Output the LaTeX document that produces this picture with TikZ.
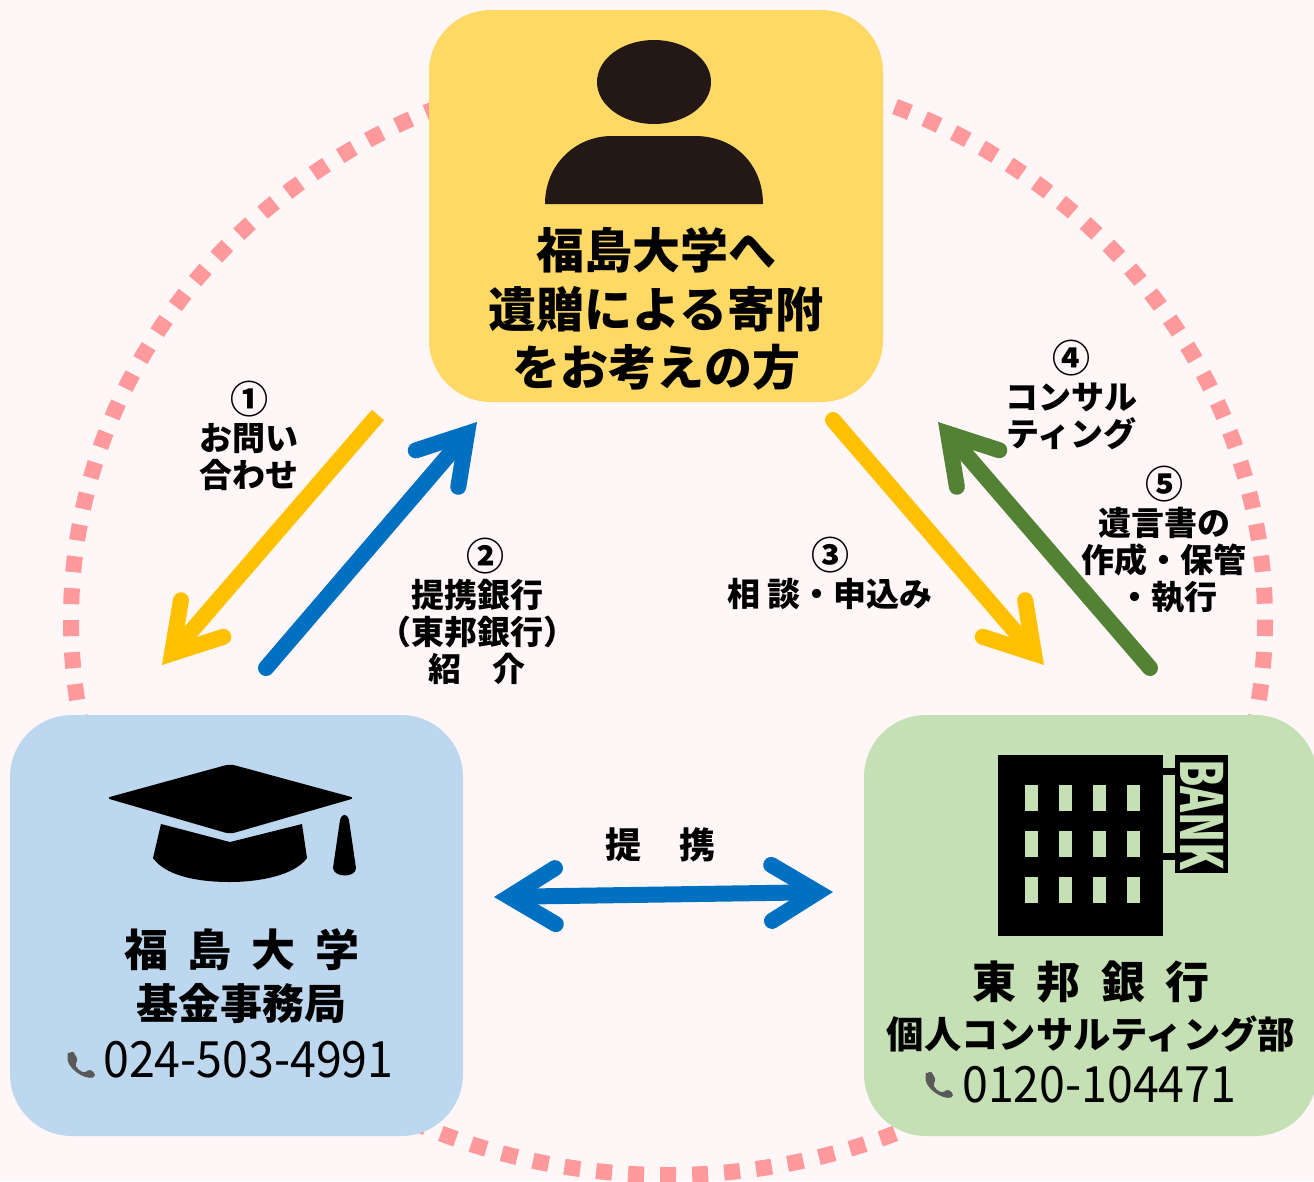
\documentclass[tikz,border=0pt]{standalone}
\usepackage{fontspec}
\usepackage{graphicx}
\usetikzlibrary{arrows.meta}
\setmainfont{Noto Sans CJK JP}
\newfontfamily\telfont[FakeStretch=0.93]{Noto Sans CJK JP}
\newcommand{\stepnum}[1]{{\fontsize{38}{37}\selectfont #1}}
\definecolor{bgpink}{HTML}{FFF6F8}
\definecolor{ringpink}{HTML}{FF999C}
\definecolor{boxyellow}{HTML}{FFD966}
\definecolor{boxblue}{HTML}{BDD7EE}
\definecolor{boxgreen}{HTML}{C5E0B4}
\definecolor{arrowyellow}{HTML}{FFC000}
\definecolor{arrowblue}{HTML}{0070C0}
\definecolor{arrowgreen}{HTML}{548235}
\definecolor{personblack}{HTML}{231815}
\definecolor{phonegrey}{HTML}{595959}
\tikzset{
    roundbox/.style={rounded corners=62pt,minimum width=#1,inner sep=0pt},
    barbtip/.tip={Straight Barb[length=46pt,width=56pt,line cap=round,line join=miter]},
    barbarrow/.style={line width=16pt,-barbtip},
    boxtitle/.style={font=\bfseries\fontsize{48}{58.5}\selectfont,align=center,inner sep=0pt},
    boxhead/.style={font=\bfseries\fontsize{44}{50}\selectfont,inner sep=0pt},
    boxsub/.style={font=\bfseries\fontsize{42}{50}\selectfont,inner sep=0pt},
    teltext/.style={font=\telfont\fontsize{50}{50}\selectfont,inner sep=0pt,anchor=west},
    steplabel/.style={font=\bfseries\fontsize{33}{37}\selectfont,align=center,inner sep=0pt},
    phoneicon/.pic={
        \fill[phonegrey,rounded corners=2pt] (0,3) -- (5,0) -- (10,9) -- (7,13) .. controls (9,18) and (12,20) .. (17,22) -- (21,18) -- (27,22) -- (27,26) .. controls (16,29) and (-3,16) .. cycle;
    }
}
\begin{document}
\begin{tikzpicture}[x=1pt,y=-1pt]
    \clip (0,0) rectangle (1314,1181);
    \fill[bgpink] (0,0) rectangle (1314,1181);
    \draw[ringpink,line width=16pt,dash pattern=on 16pt off 16.04pt] (668,620) ellipse [x radius=597,y radius=555];

    \node[roundbox=454pt,minimum height=392pt,fill=boxyellow] (donor) at (656,206) {};
    \node[roundbox=453pt,minimum height=421pt,fill=boxblue] (univ) at (236.5,925.5) {};
    \node[roundbox=453pt,minimum height=421pt,fill=boxgreen] (bank) at (1090.5,925.5) {};

    \fill[personblack] (654,82) ellipse [x radius=57,y radius=42];
    \fill[personblack] (545,204) .. controls (545,165) and (575,136) .. (612,136) -- (695,136) .. controls (735,136) and (763,165) .. (763,204) -- cycle;
    \node[boxtitle] (donortext) at (656,309) {福島大学へ\\遺贈による寄附\\をお考えの方};

    \fill[black,rounded corners=5pt] (106,798) -- (230,764) -- (355,798) -- (230,834) -- cycle;
    \fill[black] (161,824) -- (230,842) -- (302,824) -- (307,858) .. controls (295,875) and (260,882) .. (230,882) .. controls (195,882) and (165,875) .. (153,858) -- cycle;
    \fill[black] (340,820) .. controls (342,813) and (347,813) .. (349,820) -- (356,868) .. controls (356,878) and (334,878) .. (333,868) -- cycle;
    \node[boxhead] (univname) at (242,950) {福\hspace{20pt}島\hspace{20pt}大\hspace{20pt}学};
    \node[boxsub] (univdept) at (241,1004) {基金事務局};
    \pic at (68,1051) {phoneicon};
    \node[teltext] (univtel) at (103,1060) {024-503-4991};

    \fill[black] (998,755) rectangle (1163,936);
    \fill[black] (1163,768) rectangle (1175,775);
    \fill[black] (1163,853) rectangle (1175,860);
    \fill[black] (1175,755) rectangle (1228,873);
    \foreach \wx in {0,1,2,3}
        \foreach \wy in {0,1,2}
            \fill[boxgreen] (1025+34*\wx,785+46*\wy) rectangle ++(13,26);
    \node[rotate=-90,text=boxgreen,inner sep=0pt,font=\bfseries\fontsize{58}{58}\selectfont] (banksign) at (1202,815) {\scalebox{0.68}[1]{BANK}};
    \node[boxhead] (bankname) at (1091,982) {東\hspace{20.5pt}邦\hspace{20.5pt}銀\hspace{20.5pt}行};
    \node[inner sep=0pt,font=\bfseries\fontsize{37.3}{40}\selectfont] (bankdept) at (1091,1034) {個人コンサルティング部};
    \pic at (926,1071) {phoneicon};
    \node[teltext] (banktel) at (962,1085) {0120-104471};

    \coordinate (a1s) at (378,415);
    \coordinate (a1e) at (162,665);
    \coordinate (a2s) at (266,668);
    \coordinate (a2e) at (477,422);
    \coordinate (a3s) at (833,420);
    \coordinate (a3e) at (1044,665);
    \coordinate (a4s) at (1150,668);
    \coordinate (a4e) at (938,422);
    \coordinate (a5s) at (494,897);
    \coordinate (a5e) at (833,892);
    \draw[barbarrow,arrowyellow] (a1s) -- (a1e);
    \draw[barbarrow,arrowblue,line cap=round] (a2s) -- (a2e);
    \draw[barbarrow,arrowyellow,line cap=round] (a3s) -- (a3e);
    \draw[barbarrow,arrowgreen,line cap=round] (a4s) -- (a4e);
    \draw[line width=16pt,arrowblue,barbtip-barbtip] (a5s) -- (a5e);

    \node[steplabel] (step1) at (249,436) {\stepnum{①}\\お問い\\合わせ};
    \node[steplabel] (step2) at (477,611) {\hspace{16pt}\stepnum{②}\\提携銀行\\（東邦銀行）\\紹\hspace{32pt}介};
    \node[steplabel] (step3) at (830,573) {\stepnum{③}\\相 談・申込み};
    \node[steplabel] (step4) at (1071,395) {\stepnum{④}\\コンサル\\ティング};
    \node[steplabel] (step5) at (1164,540) {\stepnum{⑤}\\遺言書の\\作成・保管\\\hspace{8pt}・執行};
    \node[font=\bfseries\fontsize{36}{36}\selectfont,inner sep=0pt] (tieup) at (660.5,845) {提\hspace{39pt}携};
\end{tikzpicture}
\end{document}
